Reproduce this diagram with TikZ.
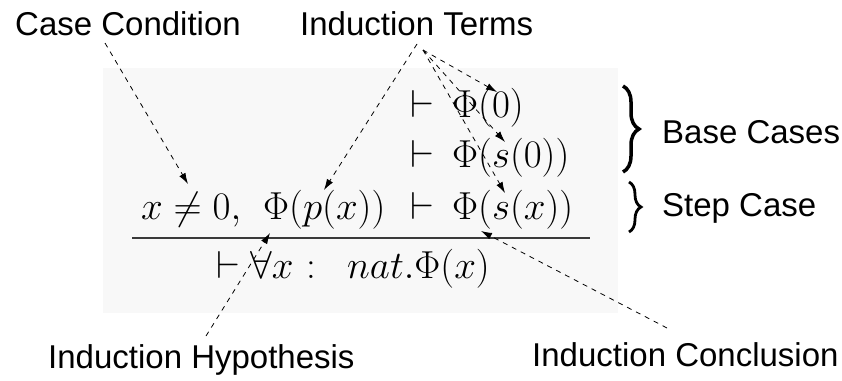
\RequirePackage{fix-cm}
\documentclass[tikz,border=0pt]{standalone}
\usepackage[no-math]{fontspec}
\newfontfamily\labelfont{Liberation Sans}
\usetikzlibrary{arrows.meta,decorations.pathreplacing}
\definecolor{boxgray}{HTML}{F8F8F8}
\definecolor{rulegray}{HTML}{3A3A3A}
\tikzset{
  lab/.style={font=\labelfont\fontsize{33}{40}\selectfont, inner sep=0pt, anchor=base west},
  mth/.style={font=\fontsize{39}{47}\selectfont, inner sep=0pt, anchor=base west},
  ptr/.style={draw=black, line width=0.8pt, dash pattern=on 5pt off 5pt, -{Latex[length=11pt,width=7pt]}},
  brc/.style={decorate, decoration={brace, amplitude=#1}, line width=3.5pt}
}
\begin{document}
\begin{tikzpicture}[x=1pt,y=-1pt]
\useasboundingbox (0,0) rectangle (842,380);
% light background of the formula picture
\fill[boxgray] (103,68) rectangle (618,313);
% labels
\node[lab] (cc) at (15,35) {Case Condition};
\node[lab] (it) at (300,35) {Induction Terms};
\node[lab] (bc) at (662,143) {Base Cases};
\node[lab] (sc) at (662,216) {Step Case};
\node[lab] (ih) at (48,368) {Induction Hypothesis};
\node[lab] (ic) at (532,366) {Induction Conclusion};
% formula
\node[mth] (v1) at (410,117) {$\vdash$};
\node[mth] (r1) at (452,117) {$\Phi(0)$};
\node[mth] (v2) at (410,167) {$\vdash$};
\node[mth] (r2) at (452,167) {$\Phi(s(0))$};
\node[mth] (l3a) at (141,219) {$x\neq 0,$};
\node[mth] (l3b) at (263,219) {$\Phi(p(x))$};
\node[mth] (v3) at (410,219) {$\vdash$};
\node[mth] (r3) at (452,219) {$\Phi(s(x))$};
\coordinate (rl) at (132,238);
\coordinate (rr) at (590,238);
\draw[rulegray, line width=2pt] (rl) -- (rr);
\node[mth] (v4) at (216,278) {$\vdash$};
\node[mth] (c4a) at (250,278) {$\forall x$};
\node[mth, anchor=base] (c4b) at (311,278) {$:$};
\node[mth] (c4c) at (347,278) {$nat.\Phi(x)$};
% braces
\coordinate (b1t) at (623,86);
\coordinate (b1b) at (623,172);
\coordinate (b2t) at (629,182);
\coordinate (b2b) at (629,232);
\draw[brc=16pt] (b1t) -- (b1b);
\draw[brc=12pt, line width=2.8pt] (b2t) -- (b2b);
% connector ends
\coordinate (ccs) at (105,43);
\coordinate (cct) at (188,184);
\coordinate (its) at (417,44);
\coordinate (its2) at (423,50);
\coordinate (tp) at (324,190);
\coordinate (t0) at (497,92);
\coordinate (ts0) at (505,142);
\coordinate (tsx) at (505,193);
\coordinate (ihs) at (206,336);
\coordinate (iht) at (270,233);
\coordinate (ics) at (667,328);
\coordinate (ict) at (481,231);
\draw[ptr] (ccs) -- (cct);
\draw[ptr] (its) -- (tp);
\draw[ptr] (its2) -- (t0);
\draw[ptr] (its2) -- (ts0);
\draw[ptr] (its2) -- (tsx);
\draw[ptr] (ihs) -- (iht);
\draw[ptr] (ics) -- (ict);
\end{tikzpicture}
\end{document}
